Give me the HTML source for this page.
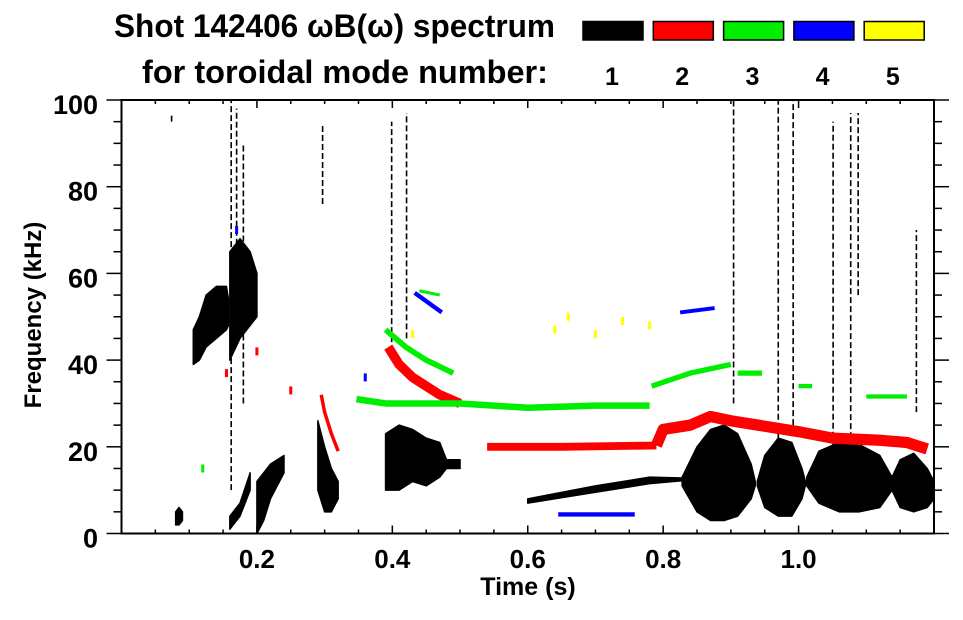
<!DOCTYPE html>
<html><head><meta charset="utf-8"><style>
html,body{margin:0;padding:0;background:#fff;}
body{width:963px;height:615px;overflow:hidden;font-family:"Liberation Sans",Arial,sans-serif;}
</style></head><body>
<svg id="chart" width="963" height="615" xmlns="http://www.w3.org/2000/svg" font-family="Liberation Sans, Arial, sans-serif" font-weight="bold">
<text x="114" y="37" font-size="32" textLength="441" lengthAdjust="spacingAndGlyphs">Shot 142406 ωB(ω) spectrum</text>
<text x="142" y="83" font-size="32" textLength="406" lengthAdjust="spacingAndGlyphs">for toroidal mode number:</text>
<g id="legend"></g>
<g id="marks"></g>
<g id="axes"></g>
<text x="528" y="595" font-size="25" text-anchor="middle">Time (s)</text>
<text transform="translate(41,315) rotate(-90)" font-size="24" text-anchor="middle">Frequency (kHz)</text>
</svg>
<script>
// ---- data ----
const modeNumbers=[1,2,3,4,5];
const modeColors=['#000000','#ff0000','#00ee00','#0000ff','#ffff00'];
const xTicks=[0.2,0.4,0.6,0.8,1.0];
const xTickLabels=['0.2','0.4','0.6','0.8','1.0'];
const yTicks=[0,20,40,60,80,100];
const yTickLabels=['0','20','40','60','80','100'];
// mode-1 (black) blobs: time, lower freq, upper freq
const blobT=[[.08,.085,.09],[.106,.115,.125,.14,.155,.158],[.16,.175,.19,.2],[.16,.175,.19],[.2,.21,.22,.24],[.29,.30,.31,.32],[.39,.41,.43,.45,.47,.48,.50],[.6,.7,.78,.83],[.828,.85,.87,.89,.91,.93,.936],[.939,.95,.97,.99,1.005,1.01],[1.012,1.03,1.06,1.09,1.12,1.138],[1.138,1.15,1.17,1.19,1.2]];
const blobLo=[[2,2,3],[39,40,43,45,47,48],[40,45,48,50],[1,4,10],[0,3,8,14],[10,5,5,8],[10,10,12,11,13,15,15],[7,9.5,11.5,12.2],[11,5,3,3,4,8,11],[11,6,4,4,8,11],[11,7,5,5,6,10],[10,6,5,6,8]];
const blobHi=[[5,6,5],[47,50,55,57,57,54],[65,68,65,60],[4,7,14],[12,14,16,18],[26,20,15,12],[23,25,24,22,21,17,17],[8,11,13,12.8],[13,20,24,25,23,16,12],[12,18,22,21,15,12],[13,19,21,20.5,18,13],[13,17,18.5,15,12]];
// vertical black streaks
const streakT=[.074,.162,.17,.18,.297,.399,.421,.904,.97,.992,1.051,1.077,1.088,1.174];
const streakLo=[95,10,50,30,76,40,45,30,20,25,20,22,55,28];
const streakHi=[97,100,98,90,94,95,97,100,100,100,95,97,97,70];
// colored mode tracks: mode index, times, freqs, width (kHz)
const trackMode=[1,1,1,1,2,2,2,2,2,2,2,3,3,3];
const trackT=[[.54,.65,.79],[.79,.80,.84,.87,.90,.94,1.0,1.05,1.12,1.16,1.19],[.295,.30,.31,.32],[.394,.41,.43,.45,.47,.50],[.39,.42,.45,.49],[.347,.39,.5,.6,.7,.78],[.783,.84,.90],[.91,.946],[1.0,1.02],[1.10,1.16],[.44,.47],[.645,.758],[.825,.876],[.433,.473]];
const trackF=[[20,20,20.3],[20.3,24,25,27,26,25,23.5,22,21.5,21,19.5],[32,28,23,19],[43,39,36,34,32,30],[47,43,40,37],[31,30,30,29,29.5,29.5],[34,37,39],[37,37],[34,34],[31.6,31.6],[56,55],[4.4,4.4],[51,52],[55.5,51]];
const trackW=[1.8,2.6,0.8,2.2,1.3,1.5,1.2,1.2,1,1,0.7,1,0.9,1];
// small isolated spots
const spotT=[.25,.155,.20,.17,.64,.66,.70,.74,.78,.43,.36,.12];
const spotF=[33,37,42,70,47,50,46,49,48,46,36,15];
const spotMode=[1,1,1,3,4,4,4,4,4,4,3,2];

// ---- scales ----
const X0=121.5,X1=934,Y0=533.5,Y1=100;
const xs=t=>X0+t/1.2*(X1-X0);
const ys=f=>Y0-f/100*(Y0-Y1);
const NS='http://www.w3.org/2000/svg';
function mk(tag,attrs,parent){const e=document.createElementNS(NS,tag);for(const k in attrs)e.setAttribute(k,attrs[k]);parent.appendChild(e);return e;}
const marks=document.getElementById('marks'),axes=document.getElementById('axes'),legend=document.getElementById('legend');

// legend
modeNumbers.forEach((m,i)=>{
  const r=mk('rect',{x:583+i*70.3,y:21.5,width:60,height:18.5,fill:modeColors[i],stroke:'#000','stroke-width':1.5},legend);
  
  
  const t=mk('text',{x:612+i*70.2,y:85,'font-size':25,'text-anchor':'middle'},legend);
  t.textContent=m;
  
  
});

// streaks
streakT.forEach((t,i)=>{
  const l=mk('line',{x1:xs(t),x2:xs(t),y1:ys(streakLo[i]),y2:ys(streakHi[i]),stroke:'#000','stroke-width':1.6,'stroke-dasharray':'6 3'},marks);
  
  
});
// blobs
blobT.forEach((ts,i)=>{
  const up=ts.map((t,j)=>xs(t)+','+ys(blobHi[i][j]));
  const dn=ts.map((t,j)=>xs(t)+','+ys(blobLo[i][j])).reverse();
  const p=mk('polygon',{points:up.concat(dn).join(' '),fill:'#000',stroke:'#000','stroke-width':1.5,'stroke-linejoin':'round'},marks);
  
  
});
// tracks
trackT.forEach((ts,i)=>{
  const pts=ts.map((t,j)=>xs(t)+','+ys(trackF[i][j])).join(' ');
  const w=trackW[i]*(Y0-Y1)/100;
  const p=mk('polyline',{points:pts,fill:'none',stroke:modeColors[trackMode[i]],'stroke-width':w,'stroke-linejoin':'round'},marks);
  
  
});
// spots
spotT.forEach((t,i)=>{
  const r=mk('rect',{x:xs(t)-1.5,y:ys(spotF[i])-4,width:3,height:8,fill:modeColors[spotMode[i]]},marks);
  
  
});

// axes frame
const fr=mk('rect',{x:X0,y:Y1,width:X1-X0,height:Y0-Y1,fill:'none',stroke:'#000','stroke-width':2},axes);


for(let k=1;k<24;k++){
  const t=k*0.05,x=xs(t),maj=(k%4===0);const L=maj?8:4;
  mk('line',{x1:x,x2:x,y1:Y0,y2:Y0-L,stroke:'#000','stroke-width':1.5},axes);
  mk('line',{x1:x,x2:x,y1:Y1,y2:Y1+L,stroke:'#000','stroke-width':1.5},axes);
}
xTicks.forEach((t,i)=>{
  const tx=mk('text',{x:xs(t),y:568,'font-size':26,'text-anchor':'middle'},axes);
  tx.textContent=xTickLabels[i];
  
  
});
for(let k=0;k<=20;k++){
  const f=k*5,y=ys(f),maj=(k%4===0);const L=maj?15:8;
  mk('line',{x1:X0-L,x2:X0,y1:y,y2:y,stroke:'#000','stroke-width':1.5},axes);
  mk('line',{x1:X1,x2:X1+L,y1:y,y2:y,stroke:'#000','stroke-width':1.5},axes);
}
yTicks.forEach((f,i)=>{
  const tx=mk('text',{x:98,y:ys(f)+14,'font-size':27,'text-anchor':'end'},axes);
  tx.textContent=yTickLabels[i];
  
  
});
</script>
</body></html>
